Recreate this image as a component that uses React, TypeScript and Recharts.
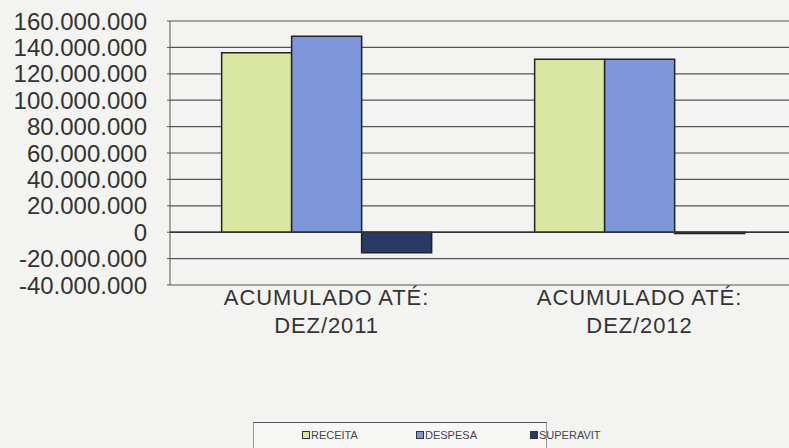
import React from 'react'
import { BarChart, Bar, XAxis, YAxis, CartesianGrid, ReferenceLine } from 'recharts'

const categorias = ['ACUMULADO ATÉ:|DEZ/2011', 'ACUMULADO ATÉ:|DEZ/2012']
const receita = [136000000, 131000000]
const despesa = [148500000, 131000000]
const superavit = [-15500000, -900000]
const yTicks = [-40000000, -20000000, 0, 20000000, 40000000, 60000000, 80000000, 100000000, 120000000, 140000000, 160000000]

const series = [
  { key: 'receita', label: 'RECEITA', color: '#d9e7a3' },
  { key: 'despesa', label: 'DESPESA', color: '#7f96da' },
  { key: 'superavit', label: 'SUPERAVIT', color: '#2a3a66' },
]

const data = categorias.map((cat, i) => ({
  cat,
  receita: receita[i],
  despesa: despesa[i],
  superavit: superavit[i],
}))

const fmt = (v: number) => {
  const s = Math.abs(v).toString().replace(/\B(?=(\d{3})+(?!\d))/g, '.')
  return v < 0 ? '-' + s : s
}

const font = '"Liberation Sans", Arial, sans-serif'

const CatTick = (props: any) => {
  const { x, y, payload } = props
  const [l1, l2] = String(payload.value).split('|')
  return (
    <g>
      <text x={x} y={y + 20} textAnchor="middle" fontSize={22} letterSpacing={0.9} fill="#333" fontFamily={font}>{l1}</text>
      <text x={x} y={y + 48} textAnchor="middle" fontSize={22} letterSpacing={0.9} fill="#333" fontFamily={font}>{l2}</text>
    </g>
  )
}

export default function App() {
  return (
    <div style={{ position: 'absolute', left: 0, top: 0, width: 789, height: 448, overflow: 'hidden', background: '#f3f3f1' }}>
      <BarChart width={800} height={448} data={data} margin={{ top: 21, right: 4, left: 0, bottom: 103 }} barCategoryGap="16.5%" barGap={0}>
        <CartesianGrid vertical={false} stroke="#555" strokeWidth={1.2} />
        <XAxis dataKey="cat" height={60} axisLine={false} tickLine={false} tickSize={0} tickMargin={0} tick={<CatTick />} interval={0} />
        <YAxis
          width={170}
          domain={[-40000000, 160000000]}
          ticks={yTicks}
          interval={0}
          tickFormatter={fmt}
          stroke="#555"
          tickSize={3}
          tickMargin={20}
          tick={{ fontSize: 24, fill: '#333', fontFamily: font }}
        />
        <ReferenceLine y={0} stroke="#333" strokeWidth={1.5} />
        {series.map((s) => (
          <Bar key={s.key} dataKey={s.key} fill={s.color} stroke="#222" strokeWidth={1.5} isAnimationActive={false} />
        ))}
      </BarChart>
      <div style={{ position: 'absolute', left: 253, top: 422, width: 292, height: 40, borderTop: '1px solid #555', borderLeft: '1px solid #999', borderRight: '1px solid #999', background: '#f7f7f5', fontFamily: font, fontSize: 11, color: '#444' }}>
        <div style={{ position: 'absolute', left: 48, top: 6, display: 'flex' }}>
          {series.map((s) => (
            <div key={s.key} style={{ width: 114, display: 'flex', alignItems: 'center' }}>
              <span style={{ display: 'inline-block', width: 6, height: 6, background: s.color, border: '1px solid #333', marginRight: 1 }} />
              <span>{s.label}</span>
            </div>
          ))}
        </div>
      </div>
    </div>
  )
}
